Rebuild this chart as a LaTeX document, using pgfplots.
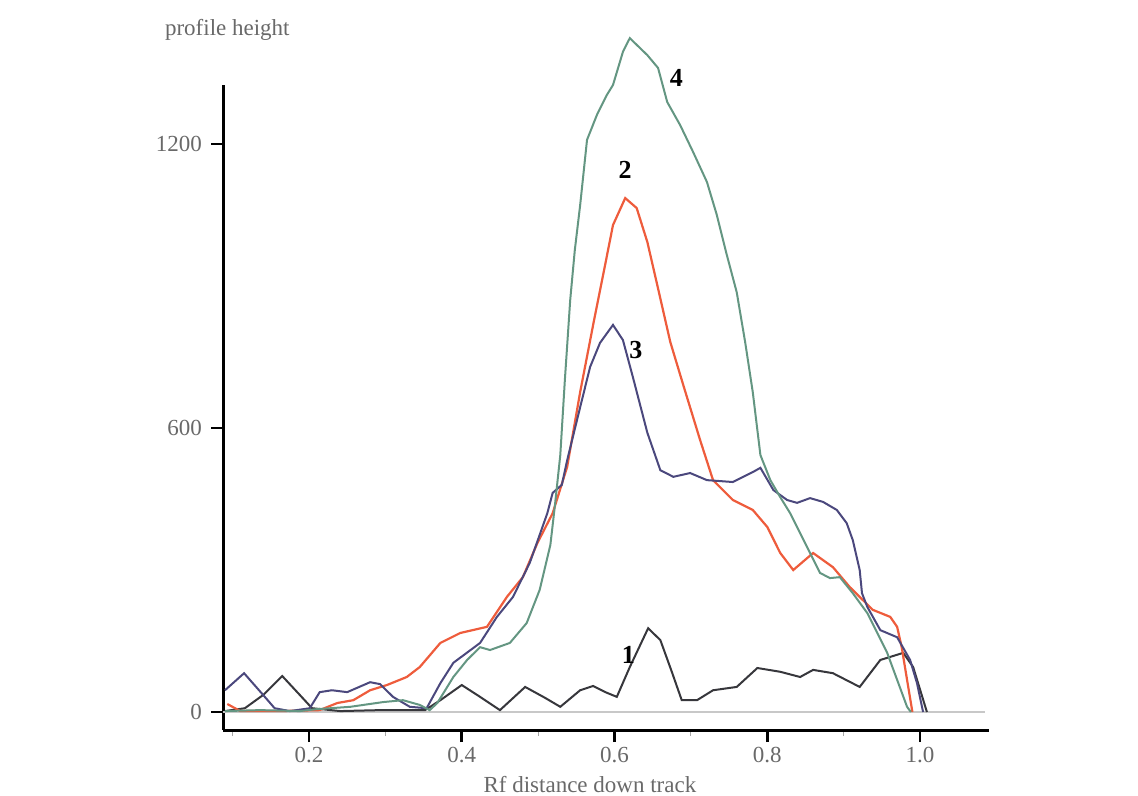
\documentclass[border=0pt]{standalone}
\usepackage{pgfplots}
\pgfplotsset{compat=1.18}
\usepackage{fontspec}
\setmainfont{Liberation Serif}

\definecolor{txtgray}{RGB}{105,105,105}
\definecolor{cone}{RGB}{55,55,60}
\definecolor{ctwo}{RGB}{238,92,60}
\definecolor{cthree}{RGB}{75,72,125}
\definecolor{cfour}{RGB}{100,150,130}
\definecolor{basegray}{RGB}{200,200,200}

\begin{document}
\begin{tikzpicture}
% page = 1138 x 796 px at 0.5pt per px, axis box lower-left at (0,0)
\useasboundingbox (-111.5pt,-33pt) rectangle (457.5pt,365pt);
\begin{axis}[
  scale only axis,
  width=383pt, height=322.5pt,
  xmin=0.0874, xmax=1.0903, ymin=-38, ymax=1325,
  axis x line=bottom, axis y line=left,
  axis line style={line width=1.5pt, black, -},
  clip=false,
  font=\fontsize{11.5}{13}\selectfont,
  xtick={0.2,0.4,0.6,0.8,1.0},
  xticklabels={0.2,0.4,0.6,0.8,1.0},
  minor xtick={0.1,0.3,0.5,0.7,0.9},
  ytick={0,600,1200},
  yticklabels={0\hspace{11pt},600,1200},
  tick align=outside,
  major tick length=6pt, minor tick length=3pt,
  major tick style={line width=1.3pt, black},
  minor tick style={line width=0.5pt, gray!70},
  tick label style={text=txtgray},
  xticklabel style={yshift=1pt},
  yticklabel style={xshift=-1pt},
]
% zero baseline
\addplot[basegray, line width=1pt] coordinates {(0.0874,0) (1.085,0)};

% profile 1
\addplot[cone, line width=1pt] coordinates {
  (0.090,2) (0.116,8) (0.140,36) (0.165,76) (0.188,36) (0.204,8) (0.241,2)
  (0.293,4) (0.352,4) (0.372,25) (0.400,57) (0.424,32) (0.450,4) (0.483,53)
  (0.509,30) (0.529,11) (0.555,46) (0.572,55) (0.588,42) (0.603,32) (0.620,95)
  (0.644,177) (0.660,152) (0.675,85) (0.688,25) (0.708,25) (0.729,46) (0.760,53)
  (0.787,93) (0.817,85) (0.843,74) (0.860,89) (0.886,82) (0.921,53) (0.948,110)
  (0.978,125) (0.991,95) (1.009,0)
};

% profile 2
\addplot[ctwo, line width=1.1pt] coordinates {
  (0.093,17) (0.110,2) (0.162,2) (0.214,4) (0.237,19) (0.258,25) (0.280,46)
  (0.302,57) (0.328,74) (0.345,95) (0.372,146) (0.398,167) (0.433,180) (0.459,243)
  (0.480,285) (0.499,357) (0.519,420) (0.538,518) (0.555,676) (0.572,818)
  (0.585,923) (0.598,1029) (0.614,1086) (0.629,1065) (0.643,993) (0.656,902)
  (0.673,782) (0.690,691) (0.712,575) (0.729,490) (0.755,448) (0.781,427)
  (0.800,391) (0.817,336) (0.834,300) (0.860,336) (0.886,306) (0.908,264)
  (0.938,216) (0.961,201) (0.970,180) (0.976,137) (0.983,68) (0.990,0)
};

% profile 3
\addplot[cthree, line width=1pt] coordinates {
  (0.090,46) (0.115,82) (0.140,36) (0.155,8) (0.175,2) (0.201,8) (0.214,42)
  (0.230,46) (0.250,42) (0.280,63) (0.293,59) (0.310,32) (0.332,11) (0.354,8)
  (0.372,61) (0.389,104) (0.424,146) (0.446,201) (0.467,243) (0.489,315)
  (0.512,420) (0.519,463) (0.531,480) (0.538,532) (0.555,644) (0.568,729)
  (0.581,780) (0.598,818) (0.611,786) (0.624,708) (0.643,590) (0.660,511)
  (0.677,497) (0.699,505) (0.721,490) (0.755,486) (0.781,507) (0.791,516)
  (0.808,469) (0.826,448) (0.839,442) (0.856,452) (0.873,444) (0.891,427)
  (0.904,399) (0.912,363) (0.921,300) (0.924,251) (0.931,222) (0.948,173)
  (0.970,158) (0.987,110) (0.996,61) (1.004,0)
};

% profile 4
\addplot[cfour, line width=1pt] coordinates {
  (0.090,2) (0.136,4) (0.188,2) (0.210,6) (0.254,11) (0.297,21) (0.323,25)
  (0.345,15) (0.358,4) (0.368,19) (0.389,74) (0.407,110) (0.424,137) (0.437,131)
  (0.463,146) (0.485,188) (0.502,258) (0.516,353) (0.522,437) (0.529,543)
  (0.535,702) (0.542,871) (0.548,976) (0.555,1071) (0.564,1209) (0.577,1262)
  (0.590,1304) (0.598,1325) (0.611,1395) (0.620,1424) (0.643,1388) (0.657,1361)
  (0.669,1289) (0.686,1240) (0.703,1183) (0.721,1120) (0.734,1050) (0.747,966)
  (0.760,887) (0.771,782) (0.781,676) (0.791,543) (0.804,490) (0.817,454)
  (0.830,420) (0.843,378) (0.856,336) (0.869,294) (0.882,283) (0.895,285)
  (0.912,251) (0.931,209) (0.944,167) (0.957,125) (0.970,68) (0.983,11) (0.988,0)
};

% curve numbers
\node[font=\fontsize{13}{15}\selectfont\bfseries] at (axis cs:0.681,1340) {4};
\node[font=\fontsize{13}{15}\selectfont\bfseries] at (axis cs:0.614,1145) {2};
\node[font=\fontsize{13}{15}\selectfont\bfseries] at (axis cs:0.628,765) {3};
\node[font=\fontsize{13}{15}\selectfont\bfseries] at (axis cs:0.618,120) {1};

% axis titles
\node[text=txtgray, anchor=west] at (rel axis cs:0,1) [xshift=-32.5pt, yshift=27.5pt] {profile height};
\node[text=txtgray] at (rel axis cs:0.479,0) [yshift=-27.5pt] {Rf distance down track};
\end{axis}
\end{tikzpicture}
\end{document}
